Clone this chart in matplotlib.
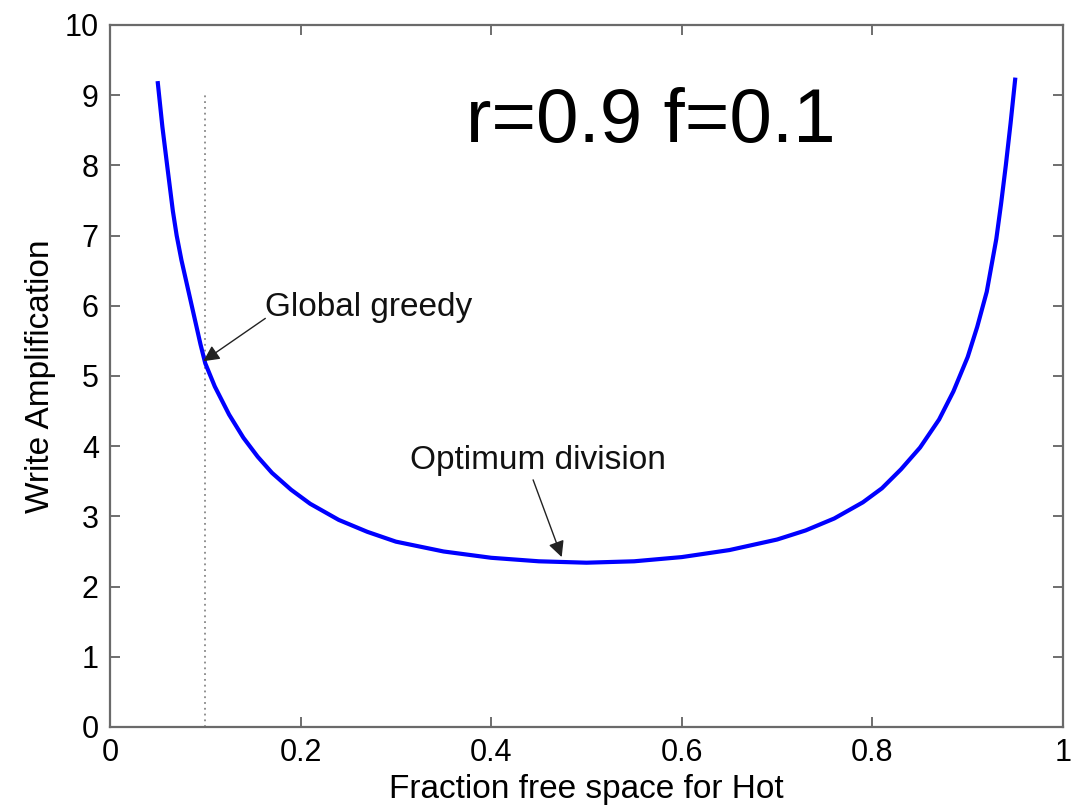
import matplotlib
matplotlib.use("Agg")
import matplotlib.pyplot as plt

# curve (fraction of free space for hot vs write amplification)
frac_hot = [0.05, 0.055, 0.06, 0.066, 0.07, 0.075, 0.08, 0.085, 0.09, 0.095,
            0.1, 0.11, 0.125, 0.14, 0.155, 0.17, 0.19, 0.21, 0.24, 0.27,
            0.3, 0.35, 0.4, 0.45, 0.5, 0.55, 0.6, 0.65, 0.7, 0.73,
            0.76, 0.79, 0.81, 0.83, 0.85, 0.87, 0.885, 0.9, 0.91, 0.92,
            0.93, 0.935, 0.94, 0.945, 0.95]
write_amp = [9.2, 8.55, 8.0, 7.35, 7.0, 6.65, 6.35, 6.05, 5.75, 5.45,
             5.18, 4.85, 4.45, 4.12, 3.85, 3.62, 3.38, 3.18, 2.95, 2.78,
             2.64, 2.5, 2.41, 2.36, 2.34, 2.36, 2.42, 2.52, 2.67, 2.8,
             2.97, 3.2, 3.4, 3.67, 3.98, 4.38, 4.78, 5.27, 5.7, 6.2,
             6.95, 7.45, 8.0, 8.6, 9.25]

greedy_x = 0.1
greedy_top = 9.0

label_text = "r=0.9 f=0.1"
xticks = [0, 0.2, 0.4, 0.6, 0.8, 1]
xticklabels = ["0", "0.2", "0.4", "0.6", "0.8", "1"]
yticks = list(range(0, 11))

plt.rcParams["font.family"] = ["Liberation Sans", "DejaVu Sans"]

fig = plt.figure(figsize=(10.77, 8.10), dpi=100)
ax = fig.add_axes([0.1021, 0.1025, 0.8849, 0.8667])

ax.plot([greedy_x, greedy_x], [0, greedy_top], color="#888888", lw=1.3,
        linestyle=(0, (1, 2.2)))
ax.plot(frac_hot, write_amp, color="#0000ff", lw=3.0, solid_capstyle="butt")

ax.set_xlim(0, 1)
ax.set_ylim(0, 10)
ax.set_xticks(xticks)
ax.set_xticklabels(xticklabels)
ax.set_yticks(yticks)

for s in ax.spines.values():
    s.set_color("#6a6a6a")
    s.set_linewidth(1.6)
ax.tick_params(direction="in", length=7, width=1.2, color="#555555",
               top=True, right=True, labelsize=22, pad=8)

ax.set_xlabel("Fraction free space for Hot", fontsize=24, labelpad=4)
ax.set_ylabel("Write Amplification", fontsize=24, labelpad=6)

ax.text(0.374, 8.33, label_text, fontsize=55, ha="left", va="baseline")

ax.text(0.163, 5.85, "Global greedy", fontsize=24, ha="left", va="baseline",
        color="#111111")
ax.annotate("", xy=(0.098, 5.21), xytext=(0.163, 5.82),
            arrowprops=dict(arrowstyle="-|>", color="#222222", lw=1.0,
                            mutation_scale=24, shrinkA=0, shrinkB=0))

ax.text(0.315, 3.68, "Optimum division", fontsize=24, ha="left", va="baseline",
        color="#111111")
ax.annotate("", xy=(0.474, 2.42), xytext=(0.444, 3.52),
            arrowprops=dict(arrowstyle="-|>", color="#222222", lw=1.0,
                            mutation_scale=24, shrinkA=0, shrinkB=0))

fig.savefig("out.png", dpi=100)
